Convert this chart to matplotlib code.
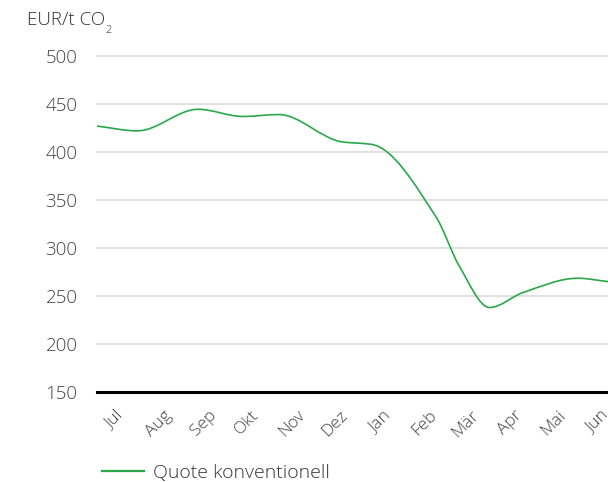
import numpy as np
import matplotlib
matplotlib.use("Agg")
import matplotlib.pyplot as plt
import matplotlib.dates as mdates
from matplotlib.path import Path
from matplotlib.patches import PathPatch
from matplotlib.lines import Line2D

# Daten
daten = ["2022-06-19", "2022-07-17", "2022-08-28", "2022-09-28", "2022-10-23",
         "2022-12-06", "2022-12-26", "2023-02-09", "2023-02-25", "2023-03-18",
         "2023-04-10", "2023-05-18", "2023-06-08"]
preise = [427, 422, 444.5, 437, 439, 410.5, 408, 332, 281, 238, 253.5, 268.5, 265]
monate = ["Jul", "Aug", "Sep", "Okt", "Nov", "Dez", "Jan", "Feb", "Mär", "Apr", "Mai", "Jun"]
monat_ticks = ["2022-07-01", "2022-08-01", "2022-09-01", "2022-10-01", "2022-11-01", "2022-12-01",
               "2023-01-01", "2023-02-01", "2023-03-01", "2023-04-01", "2023-05-01", "2023-06-01"]
y_ticks = [150, 200, 250, 300, 350, 400, 450, 500]

gruen = "#2aa84a"
textfarbe = "#444444"
schrift = ["Open Sans", "DejaVu Sans"]
gewicht = "light"


def monotone_bezier(x, y):
    # monotone kubische Kurve (Fritsch-Carlson) als Bezier-Pfad
    x = np.asarray(x, float)
    y = np.asarray(y, float)
    h = np.diff(x)
    s = np.diff(y) / h
    m = np.zeros_like(y)
    m[0], m[-1] = s[0], s[-1]
    for i in range(1, len(y) - 1):
        if s[i - 1] * s[i] <= 0:
            m[i] = 0
        else:
            w1 = 2 * h[i] + h[i - 1]
            w2 = h[i] + 2 * h[i - 1]
            m[i] = (w1 + w2) / (w1 / s[i - 1] + w2 / s[i])
    verts = [(x[0], y[0])]
    codes = [Path.MOVETO]
    for i in range(len(h)):
        verts += [(x[i] + h[i] / 3, y[i] + m[i] * h[i] / 3),
                  (x[i + 1] - h[i] / 3, y[i + 1] - m[i + 1] * h[i] / 3),
                  (x[i + 1], y[i + 1])]
        codes += [Path.CURVE4] * 3
    return Path(verts, codes)


xd = mdates.datestr2num(daten)
xt = mdates.datestr2num(monat_ticks)

fig = plt.figure(figsize=(6.08, 4.82), dpi=100)
ax = fig.add_axes([97 / 608, 1 - 392 / 482, 1 - 97 / 608, (392 - 56) / 482])

ax.add_patch(PathPatch(monotone_bezier(xd, preise), facecolor="none",
                       edgecolor=gruen, lw=1.2, zorder=3))

ax.set_xlim(xd[0], xd[-1])
ax.set_ylim(150, 500)

for v in y_ticks[1:]:
    ax.axhline(v, color="#dddddd", lw=1.3, zorder=1, clip_on=False)
ax.axhline(150, color="black", lw=2.2, zorder=4, clip_on=False)

for sp in ax.spines.values():
    sp.set_visible(False)

ax.set_yticks(y_ticks)
ax.set_yticklabels([str(v) for v in y_ticks], fontsize=13.5, color=textfarbe,
                   family=schrift, fontweight=gewicht)
ax.set_xticks(xt)
ax.set_xticklabels(monate, rotation=45, ha="center", fontsize=12.5, color=textfarbe,
                   family=schrift, fontweight=gewicht)
ax.tick_params(axis="y", length=0, pad=14)
ax.tick_params(axis="x", length=0, pad=11)

t = fig.text(27 / 608, 1 - 20 / 482, "EUR/t CO", fontsize=13.5, color="#333333",
             family=schrift, fontweight=gewicht, va="center", ha="left")
ax.annotate("2", xy=(1, 0), xycoords=t, xytext=(0.5, -1), textcoords="offset points",
            fontsize=8, color="#333333", family=schrift, fontweight=gewicht,
            va="center", ha="left")

handle = Line2D([], [], color=gruen, lw=1.6)
fig.legend([handle], ["Quote konventionell"], loc="center left",
           bbox_to_anchor=(84 / 608, 1 - 473 / 482), frameon=False,
           handlelength=2.2, handletextpad=0.45,
           prop={"family": schrift, "size": 14, "weight": gewicht})
for txt in fig.legends[0].get_texts():
    txt.set_color("#333333")

fig.savefig("out.png", dpi=100)
